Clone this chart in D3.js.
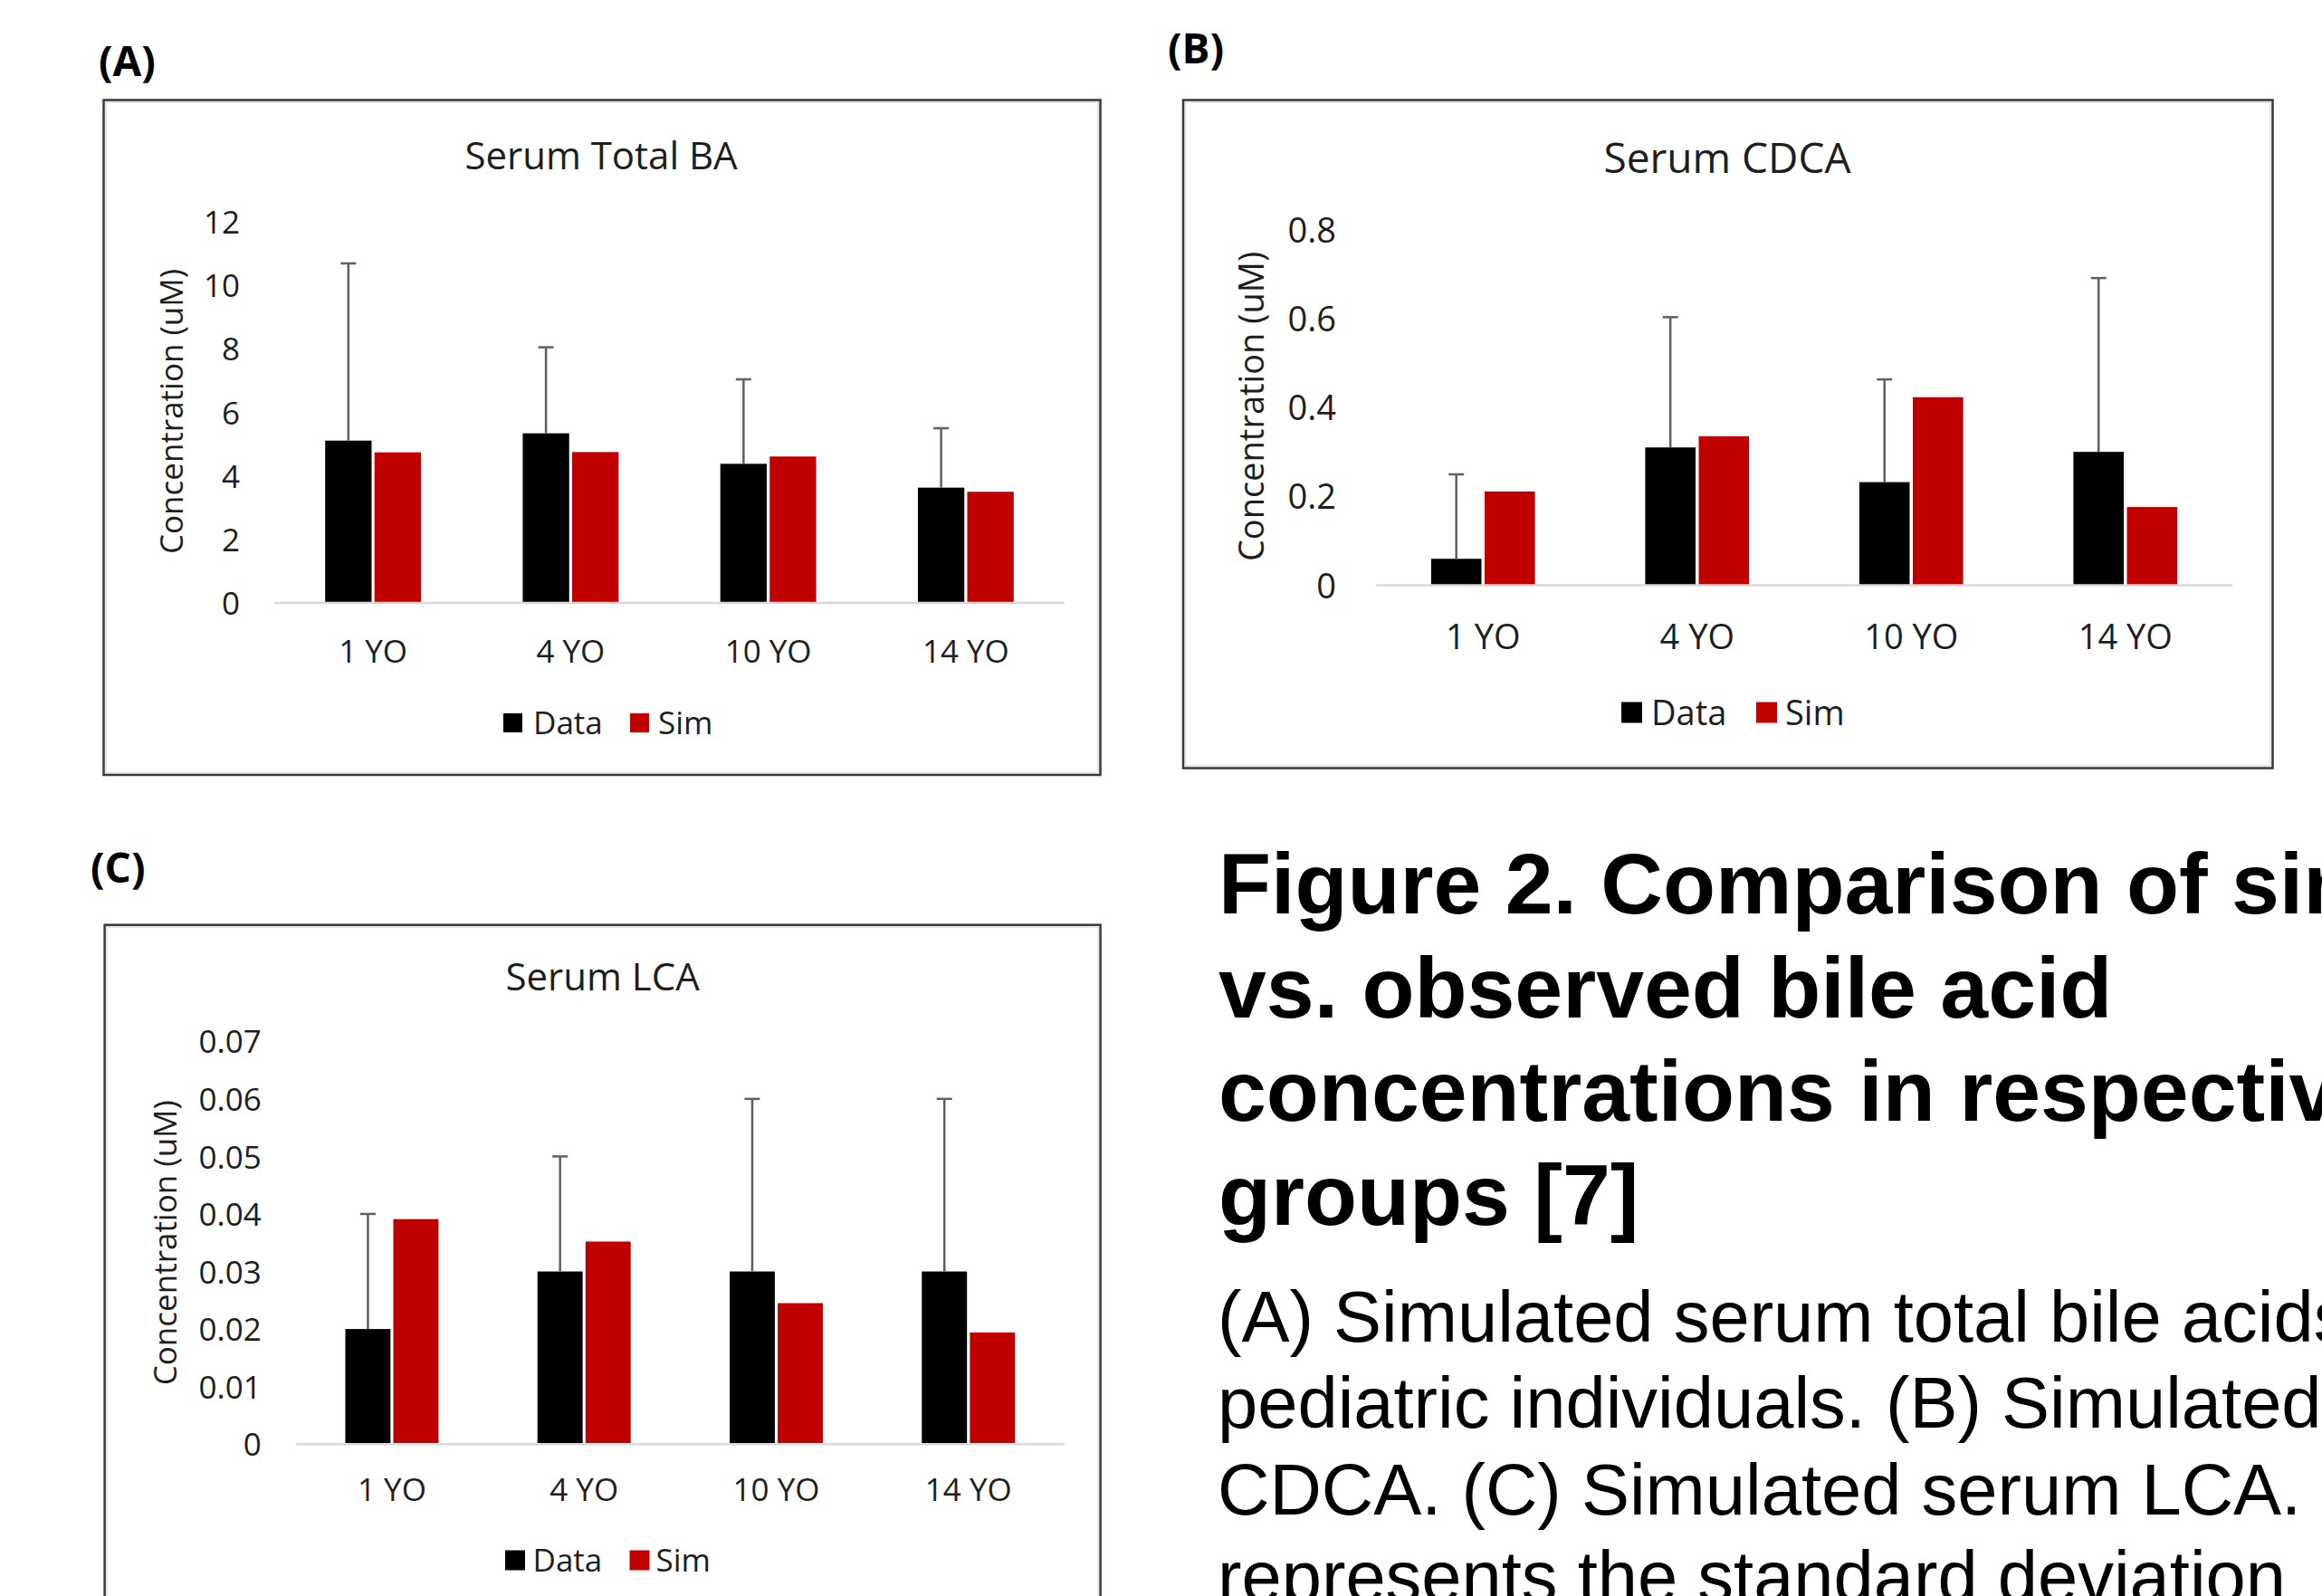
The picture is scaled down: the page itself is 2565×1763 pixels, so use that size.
<!DOCTYPE html>
<html>
<head>
<meta charset="utf-8">
<script src="https://cdn.jsdelivr.net/npm/d3@7"></script>
<style>
  html, body { margin: 0; padding: 0; background: #ffffff; }
  svg { display: block; }
</style>
</head>
<body>
<svg id="fig" width="2565" height="1763"></svg>
<script>
// ---------------- DATA ----------------
const categories = ["1 YO", "4 YO", "10 YO", "14 YO"];
const seriesNames = ["Data", "Sim"];

const totalBAData = [5.11, 5.34, 4.38, 3.63];
const totalBASim  = [4.74, 4.75, 4.61, 3.50];
const totalBASD   = [5.58, 2.71, 2.66, 1.87];
const totalBATicks = [0, 2, 4, 6, 8, 10, 12];

const cdcaData = [0.0595, 0.310, 0.232, 0.300];
const cdcaSim  = [0.211, 0.335, 0.423, 0.176];
const cdcaSD   = [0.190, 0.293, 0.231, 0.391];
const cdcaTicks = [0, 0.2, 0.4, 0.6, 0.8];

const lcaData = [0.020, 0.030, 0.030, 0.030];
const lcaSim  = [0.0391, 0.0352, 0.0245, 0.0194];
const lcaSD   = [0.020, 0.020, 0.030, 0.030];
const lcaTicks = [0, 0.01, 0.02, 0.03, 0.04, 0.05, 0.06, 0.07];

const panelLabels = ["(A)", "(B)", "(C)"];
const chartTitles = ["Serum Total BA", "Serum CDCA", "Serum LCA"];
const yAxisTitle = "Concentration (uM)";

const captionTitleLines = [
  "Figure 2. Comparison of simulated",
  "vs. observed bile acid",
  "concentrations in respective",
  "groups [7]"
];
const captionBodyLines = [
  "(A) Simulated serum total bile acids",
  "pediatric individuals. (B) Simulated",
  "CDCA. (C) Simulated serum LCA. Error",
  "represents the standard deviation"
];

// ---------------- STYLE / LAYOUT ----------------
const colors = { Data: "#000000", Sim: "#c00000" };
const chartFont = "'Open Sans', 'DejaVu Sans', sans-serif";
const textColor = "#1e1e1e";

const svg = d3.select("#fig");
svg.append("rect").attr("width", 2565).attr("height", 1763).attr("fill", "#fff");

const panels = [
  {
    label: panelLabels[0], labelX: 109, labelY: 84,
    frame: { x: 114.5, y: 110.5, w: 1101, h: 745.5 },
    title: chartTitles[0], titleX: 664, titleY: 186.5, titleSize: 42,
    fs: 35, x0: 303, x1: 1176, yBottom: 666, yTop: 245, max: 12,
    ticks: totalBATicks, fmt: d3.format("d"), tickPad: 38,
    yTitleX: 202, yTitleY: 454.5, catY: 732,
    data: totalBAData, sim: totalBASim, sd: totalBASD,
    legend: { y: 788, sq: 21, dataSq: 556, dataTx: 589, simSq: 696, simTx: 727 },
    cap: 17
  },
  {
    label: panelLabels[1], labelX: 1290, labelY: 70,
    frame: { x: 1307, y: 110.5, w: 1203.5, h: 738 },
    title: chartTitles[1], titleX: 1908, titleY: 191, titleSize: 46,
    fs: 38, x0: 1520, x1: 2466, yBottom: 646.5, yTop: 253.6, max: 0.8,
    ticks: cdcaTicks, fmt: v => v === 0 ? "0" : d3.format(".1f")(v), tickPad: 44,
    yTitleX: 1396, yTitleY: 449, catY: 717,
    data: cdcaData, sim: cdcaSim, sd: cdcaSD,
    legend: { y: 775.5, sq: 23, dataSq: 1791, dataTx: 1824, simSq: 1940, simTx: 1972 },
    cap: 17
  },
  {
    label: panelLabels[2], labelX: 100, labelY: 975,
    frame: { x: 115.6, y: 1021.7, w: 1100, h: 820 },
    title: chartTitles[2], titleX: 665.6, titleY: 1094, titleSize: 42,
    fs: 35, x0: 326.8, x1: 1175.9, yBottom: 1595.2, yTop: 1150.3, max: 0.07,
    ticks: lcaTicks, fmt: v => v === 0 ? "0" : d3.format(".2f")(v), tickPad: 38,
    yTitleX: 195, yTitleY: 1372.7, catY: 1658,
    data: lcaData, sim: lcaSim, sd: lcaSD,
    legend: { y: 1712.5, sq: 22, dataSq: 558, dataTx: 588.5, simSq: 695.5, simTx: 724.5 },
    cap: 17
  }
];

function drawPanel(p) {
  const g = svg.append("g");

  // panel letter
  g.append("text")
    .attr("x", p.labelX).attr("y", p.labelY)
    .attr("font-family", chartFont).attr("font-weight", 700)
    .attr("font-size", 46).attr("fill", "#000")
    .text(p.label);

  // frame (with faint inner shade)
  g.append("rect")
    .attr("x", p.frame.x + 2.5).attr("y", p.frame.y + 2.5)
    .attr("width", p.frame.w - 5).attr("height", p.frame.h - 5)
    .attr("fill", "none").attr("stroke", "#e6e6e6").attr("stroke-width", 2);
  g.append("rect")
    .attr("x", p.frame.x).attr("y", p.frame.y)
    .attr("width", p.frame.w).attr("height", p.frame.h)
    .attr("fill", "none").attr("stroke", "#383838").attr("stroke-width", 2.5);

  // title
  g.append("text")
    .attr("x", p.titleX).attr("y", p.titleY)
    .attr("text-anchor", "middle")
    .attr("font-family", chartFont).attr("font-size", p.titleSize)
    .attr("fill", textColor)
    .text(p.title);

  // scales
  const xg = d3.scaleBand().domain(categories).range([p.x0, p.x1])
    .paddingInner(0.515).paddingOuter(0.2575);
  const xs = d3.scaleBand().domain(seriesNames).range([0, xg.bandwidth()])
    .paddingInner(0.06);
  const y = d3.scaleLinear().domain([0, p.max]).range([p.yBottom, p.yTop]);

  // y axis labels
  const yAxis = d3.axisLeft(y).tickValues(p.ticks).tickFormat(p.fmt)
    .tickSize(0).tickPadding(p.tickPad);
  const ya = g.append("g").attr("transform", `translate(${p.x0},0)`).call(yAxis);
  ya.select(".domain").remove();
  ya.selectAll("text")
    .attr("font-family", chartFont).attr("font-size", p.fs)
    .attr("fill", textColor).attr("dy", "0.36em");

  // x axis labels
  const xAxis = d3.axisBottom(xg).tickSize(0);
  const xa = g.append("g").attr("transform", `translate(0,${p.yBottom})`).call(xAxis);
  xa.select(".domain").remove();
  xa.selectAll("text")
    .attr("font-family", chartFont).attr("font-size", p.fs)
    .attr("fill", textColor)
    .attr("y", p.catY - p.yBottom).attr("dy", null);

  // y axis title
  g.append("text")
    .attr("transform", `translate(${p.yTitleX},${p.yTitleY}) rotate(-90)`)
    .attr("text-anchor", "middle")
    .attr("font-family", chartFont).attr("font-size", p.fs)
    .attr("fill", textColor)
    .text(yAxisTitle);

  // bars
  const rows = categories.map((c, i) => ({ cat: c, Data: p.data[i], Sim: p.sim[i], sd: p.sd[i] }));
  const grp = g.append("g").selectAll("g").data(rows).join("g")
    .attr("transform", d => `translate(${xg(d.cat)},0)`);
  grp.selectAll("rect")
    .data(d => seriesNames.map(s => ({ s, v: d[s] })))
    .join("rect")
    .attr("x", d => xs(d.s))
    .attr("y", d => y(d.v))
    .attr("width", xs.bandwidth())
    .attr("height", d => y(0) - y(d.v))
    .attr("fill", d => colors[d.s]);

  // baseline
  g.append("line")
    .attr("x1", p.x0).attr("x2", p.x1)
    .attr("y1", y(0)).attr("y2", y(0))
    .attr("stroke", "#d9d9d9").attr("stroke-width", 2.5);

  // error bars (positive, on Data)
  const eb = g.append("g").attr("stroke", "#5f5f5f").attr("stroke-width", 2.5);
  rows.forEach(d => {
    const cx = xg(d.cat) + xs("Data") + xs.bandwidth() / 2;
    eb.append("line").attr("x1", cx).attr("x2", cx)
      .attr("y1", y(d.Data)).attr("y2", y(d.Data + d.sd));
    eb.append("line").attr("x1", cx - p.cap / 2).attr("x2", cx + p.cap / 2)
      .attr("y1", y(d.Data + d.sd)).attr("y2", y(d.Data + d.sd));
  });

  // legend
  const L = p.legend;
  const ly = L.y + L.sq / 2;
  [["Data", L.dataSq, L.dataTx], ["Sim", L.simSq, L.simTx]].forEach(([s, sx, tx]) => {
    g.append("rect").attr("x", sx).attr("y", L.y)
      .attr("width", L.sq).attr("height", L.sq).attr("fill", colors[s]);
    g.append("text").attr("x", tx).attr("y", ly).attr("dy", "0.36em")
      .attr("font-family", chartFont).attr("font-size", p.fs)
      .attr("fill", textColor).text(s);
  });
}

panels.forEach(drawPanel);

// ---------------- CAPTION ----------------
const cap = svg.append("g").attr("font-family", "'Liberation Sans', Arial, sans-serif").attr("fill", "#000");
const titleBaselines = [1008.5, 1123.5, 1238.3, 1352.7];
captionTitleLines.forEach((t, i) => {
  cap.append("text").attr("x", 1346).attr("y", titleBaselines[i])
    .attr("font-size", 95).attr("font-weight", 700).text(t);
});
const bodyBaselines = [1481.7, 1577, 1673, 1769];
captionBodyLines.forEach((t, i) => {
  cap.append("text").attr("x", 1345).attr("y", bodyBaselines[i])
    .attr("font-size", 79.5).text(t);
});
</script>
</body>
</html>
